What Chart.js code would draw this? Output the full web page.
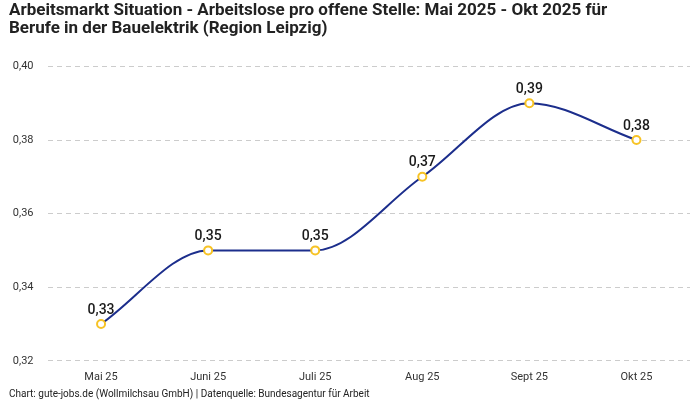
<!DOCTYPE html>
<html>
<head>
<meta charset="utf-8">
<script src="https://cdn.jsdelivr.net/npm/chart.js@4"></script>
<style>
  html, body { margin: 0; padding: 0; background: #fff; }
  #wrap { width: 700px; height: 400px; }
</style>
</head>
<body>
<div id="wrap"><canvas id="myChart"></canvas></div>
<script>
const monate = ["Mai 25", "Juni 25", "Juli 25", "Aug 25", "Sept 25", "Okt 25"];
const quote = [0.33, 0.35, 0.35, 0.37, 0.39, 0.38];
const yTicks = [0.32, 0.34, 0.36, 0.38, 0.40];

const fmt = (v) => v.toFixed(2).replace(".", ",");

const wertLabels = {
  id: "wertLabels",
  afterDatasetsDraw(chart) {
    const ctx = chart.ctx;
    const meta = chart.getDatasetMeta(0);
    ctx.save();
    ctx.font = "500 14px Roboto";
    ctx.fillStyle = "#1a1a1a";
    ctx.textAlign = "center";
    ctx.textBaseline = "bottom";
    meta.data.forEach((pt, i) => {
      ctx.fillText(fmt(quote[i]), pt.x, pt.y - 7);
    });
    ctx.restore();
  },
};

new Chart(document.getElementById("myChart"), {
  type: "line",
  data: {
    labels: monate,
    datasets: [
      {
        data: quote,
        borderColor: "#1c2e8c",
        borderWidth: 2,
        cubicInterpolationMode: "monotone",
        pointRadius: 4,
        pointBorderWidth: 2,
        pointBackgroundColor: "#ffffff",
        pointBorderColor: "#f7c325",
        fill: false,
      },
    ],
  },
  options: {
    responsive: true,
    maintainAspectRatio: false,
    animation: false,
    layout: { padding: { left: 9, right: 10, top: 0, bottom: 0 } },
    scales: {
      x: {
        offset: true,
        grid: { display: false },
        border: { display: false },
        ticks: { color: "#333", font: { family: "Roboto", size: 11 }, padding: 2 },
      },
      y: {
        min: 0.32,
        max: 0.40,
        afterBuildTicks: (axis) => {
          axis.ticks = yTicks.map((v) => ({ value: v }));
        },
        afterFit: (axis) => {
          axis.width = 38.5;
        },
        border: { display: false, dash: [5, 4] },
        grid: { color: "#cccccc", drawTicks: false },
        ticks: {
          color: "#333",
          font: { family: "Roboto", size: 11 },
          padding: 14,
          callback: (v) => fmt(v),
        },
      },
    },
    plugins: {
      legend: { display: false },
      tooltip: { enabled: false },
      title: {
        display: true,
        align: "start",
        text: [
          "Arbeitsmarkt Situation - Arbeitslose pro offene Stelle: Mai 2025 - Okt 2025 für",
          "Berufe in der Bauelektrik (Region Leipzig)",
        ],
        color: "#222",
        font: { family: "Roboto", size: 17, weight: "bold", lineHeight: 1.1 },
        padding: { top: 1, bottom: 28 },
      },
      subtitle: {
        display: true,
        position: "bottom",
        align: "start",
        text: "Chart: gute-jobs.de (Wollmilchsau GmbH) | Datenquelle: Bundesagentur für Arbeit",
        color: "#222",
        font: { family: "Roboto", size: 10 },
        padding: { top: 2, bottom: 0 },
      },
    },
  },
  plugins: [wertLabels],
});
</script>
</body>
</html>
